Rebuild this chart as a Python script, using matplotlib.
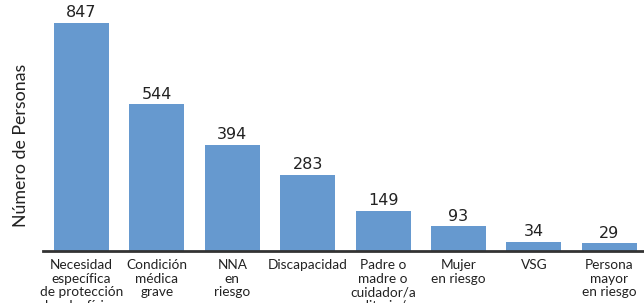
import matplotlib
matplotlib.use("Agg")
import matplotlib.pyplot as plt

categories = [
    "Necesidad\nespecífica\nde protección\nlegal y física",
    "Condición\nmédica\ngrave",
    "NNA\nen\nriesgo",
    "Discapacidad",
    "Padre o\nmadre o\ncuidador/a\nsolitario/a",
    "Mujer\nen riesgo",
    "VSG",
    "Persona\nmayor\nen riesgo",
]
values = [847, 544, 394, 283, 149, 93, 34, 29]

fig = plt.figure(figsize=(6.44, 3.03), dpi=100)
ax = fig.add_axes([43 / 644, 1 - 251 / 303, 1 - 43 / 644, 251 / 303])

x = range(len(values))
ax.bar(x, values, width=0.73, color="#6699cf", zorder=2)

for xi, v in zip(x, values):
    ax.text(xi, v + 9, str(v), ha="center", va="bottom",
            fontsize=11.5, family="DejaVu Sans", color="#222222")

ax.set_xlim(-0.51, 7.46)
ax.set_ylim(0, 932)
ax.set_xticks(list(x))
ax.set_xticklabels(categories, family="Lato", fontsize=9.8, color="#222222",
                   linespacing=1.15, va="top")
ax.tick_params(axis="x", length=0, pad=6)
ax.set_yticks([])
ax.set_ylabel("Número de Personas", family="Lato", fontsize=12.8,
              color="#222222", va="center")
ax.yaxis.set_label_coords(-0.036, 0.42)

for side in ["top", "right", "left"]:
    ax.spines[side].set_visible(False)
ax.spines["bottom"].set_color("#333333")
ax.spines["bottom"].set_linewidth(2)
ax.spines["bottom"].set_zorder(3)

fig.savefig("out.png", dpi=100)
